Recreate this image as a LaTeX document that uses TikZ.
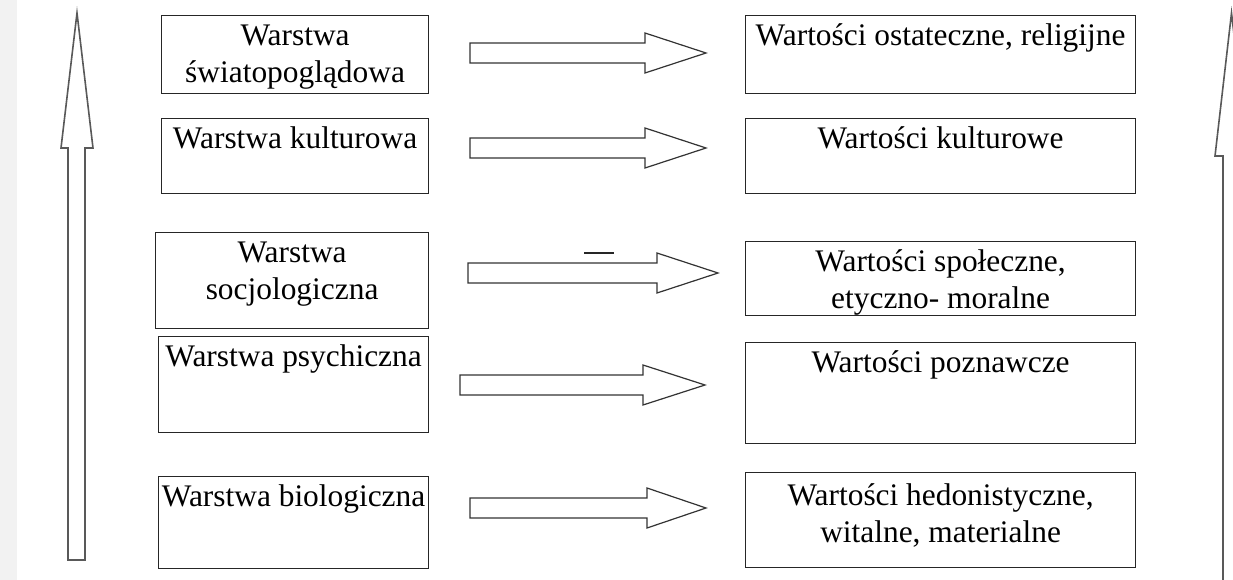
\documentclass[tikz,border=0pt]{standalone}
\usepackage{fontspec}
\setmainfont{Liberation Serif}
\newcommand\bx[7]{% name, x, y, w, h, baseline offset, text
  \node[box] (#1) at (#2,#3) {\parbox[t][#5pt][t]{#4pt}{\centering\rule{0pt}{#6pt}#7}};}
\newcommand\harrow[4]{% x1, xbase, xtip, ycenter
  \draw[blk] (#1,#4-10) -- (#2,#4-10) -- (#2,#4-20) -- (#3,#4) -- (#2,#4+20) -- (#2,#4+10) -- (#1,#4+10) -- cycle;}
\begin{document}
\begin{tikzpicture}[x=1pt,y=-1pt,
  box/.style={draw=black!85, line width=1.2pt, inner sep=0pt, anchor=north west,
    font=\fontsize{31.4}{36.5}\selectfont},
  blk/.style={draw=black!80, line width=1.2pt, fill=white, line join=miter},
  vert/.style={draw=black!65, line width=1.6pt, fill=white, line join=miter}]
\useasboundingbox (0,0) rectangle (1233,580);
\fill[white] (0,0) rectangle (1233,580);
\fill[gray!10] (0,0) rectangle (17,580);
\clip (0,0) rectangle (1233,580);
% vertical arrows
\draw[vert] (68,560) -- (68,148) -- (61,148) -- (77,13) -- (93,148) -- (85,148) -- (85,560) -- cycle;
\draw[vert] (1223,600) -- (1223,156) -- (1215,156) -- (1231.5,13) -- (1248,156) -- (1240,156) -- (1240,600) -- cycle;
% left boxes
\bx{L1}{161}{15}{267}{78}{30}{Warstwa\\ światopoglądowa}
\bx{L2}{161}{118}{267}{75}{30}{Warstwa kulturowa}
\bx{L3}{155}{232}{273}{96}{30}{Warstwa\\ socjologiczna}
\bx{L4}{158}{336}{270}{96}{30}{Warstwa psychiczna}
\bx{L5}{158}{476}{270}{92}{30}{Warstwa biologiczna}
% right boxes
\bx{R1}{745}{15}{390}{78}{30}{Wartości ostateczne, religijne}
\bx{R2}{745}{118}{390}{75}{30}{Wartości kulturowe}
\bx{R3}{745}{241}{390}{74}{30}{Wartości społeczne,\\ etyczno- moralne}
\bx{R4}{745}{342}{390}{101}{30}{Wartości poznawcze}
\bx{R5}{745}{472}{390}{95}{33}{Wartości hedonistyczne,\\ witalne, materialne}
% block arrows
\harrow{470}{645}{706}{53}
\harrow{470}{645}{706}{148}
\harrow{468}{657}{718}{273}
\harrow{460}{643}{705}{385}
\harrow{470}{647}{706}{508}
\draw[line width=1.5pt, black!85] (584,253) -- (614,253);
\end{tikzpicture}
\end{document}
